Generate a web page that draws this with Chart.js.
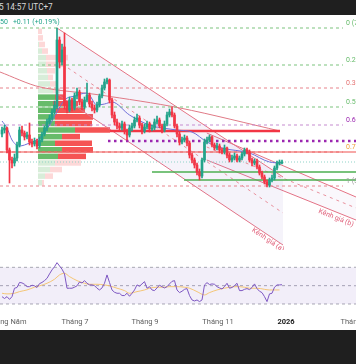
<!DOCTYPE html>
<html><head><meta charset="utf-8">
<script src="https://cdn.jsdelivr.net/npm/chart.js@4.4.1/dist/chart.umd.min.js"></script>
<style>
html,body{margin:0;padding:0;background:#fff;width:356px;height:364px;overflow:hidden;font-family:Roboto,"Noto Sans",sans-serif;}
#top{position:absolute;left:0;top:0;width:356px;height:15px;background:#1f1f1f;z-index:5;}
#bot{position:absolute;left:0;top:330px;width:356px;height:34px;background:#1f1f1f;z-index:5;}
#time{position:absolute;left:-1px;top:2px;color:#d8d8d8;font-size:8.2px;line-height:11px;white-space:nowrap;}
#quote{position:absolute;left:0;top:18px;color:#22a38a;font-size:7px;line-height:9px;white-space:nowrap;z-index:6;}
#quote span{margin-left:5px;}
canvas{position:absolute;}
#prof{left:38px;top:28px;z-index:1;}
#main{left:0;top:15px;z-index:2;}
#rsi{left:0;top:250px;z-index:2;}
</style></head>
<body>
<div id="top"><div id="time">5 14:57 UTC+7</div></div>
<div id="quote">50<span>+0.11 (+0.19%)</span></div>
<canvas id="prof" width="100" height="158"></canvas>
<canvas id="main" width="356" height="235"></canvas>
<canvas id="rsi" width="356" height="80"></canvas>
<div id="bot"></div>
<script>
// ---------- DATA ----------
const monthLabels = ['Tháng Năm','Tháng 7','Tháng 9','Tháng 11','2026','Tháng 3'];
const monthTickIdx = [2, 29.2, 57.2, 86.4, 113.6, 140.8];

const openP = [60.3,60.7,60.9,58.7,57.7,57.4,57.9,59.2,60.7,60.4,
 60.0,60.2,59.5,59.3,59.6,59.1,59.7,60.3,60.9,61.5,
 61.9,62.5,63.0,69.7,67.5,69.0,63.2,62.7,63.7,62.9,
 64.1,64.5,63.5,63.0,63.7,64.2,63.3,62.9,62.7,63.2,
 64.1,64.9,65.5,65.7,63.7,62.2,61.5,61.1,60.9,61.3,
 60.6,60.2,60.9,61.1,61.7,61.9,61.2,60.6,61.0,61.3,
 60.8,60.9,61.5,61.7,61.1,60.7,61.3,62.2,62.5,62.2,
 61.1,60.3,59.5,59.7,59.9,59.4,58.2,57.7,57.2,56.5,
 56.1,57.7,59.5,59.7,60.0,59.2,58.9,59.1,58.7,58.5,
 58.9,58.2,57.7,57.9,58.1,57.7,57.9,58.3,58.7,58.5,
 57.7,57.4,57.6,57.0,56.4,56.0,55.5,55.2,55.7,55.9,
 56.9,57.4,57.4];
const highP = [61.0,61.2,61.0,58.9,58.0,58.3,59.5,61.0,61.1,60.6,
 60.5,61.4,59.8,59.9,59.8,60.0,60.5,61.1,61.8,62.2,
 62.8,63.6,70.9,70.0,69.3,70.4,63.6,64.0,63.9,64.4,
 64.9,64.7,63.8,64.0,65.4,64.4,63.6,63.2,63.5,64.3,
 65.2,65.8,65.9,65.8,63.9,62.5,61.8,61.4,61.6,61.5,
 60.8,61.2,61.4,62.0,62.3,62.1,61.4,61.3,61.6,61.5,
 61.2,61.8,62.1,61.9,61.3,61.6,62.5,62.8,63.0,62.4,
 61.3,60.5,60.0,60.2,60.1,59.6,58.4,57.9,57.4,56.8,
 57.9,59.8,60.0,60.2,60.1,59.4,59.4,59.3,58.9,59.2,
 59.0,58.4,58.2,58.4,58.3,58.1,58.5,58.9,58.9,58.7,
 57.9,57.8,57.8,57.2,56.6,56.2,55.7,55.9,56.2,57.1,
 57.6,57.7,57.7];
const lowP = [60.0,60.4,58.4,55.4,56.9,57.1,57.6,59.0,60.1,59.7,
 59.8,59.2,59.0,59.1,58.8,58.9,59.5,60.1,60.6,61.3,
 61.7,62.3,62.8,66.9,67.2,62.8,62.4,62.5,62.6,62.7,
 63.8,63.2,62.7,62.8,63.5,63.0,62.6,62.4,62.5,63.0,
 63.9,64.7,65.3,63.4,61.9,61.2,60.8,60.6,60.7,60.3,
 59.7,60.0,60.6,60.9,61.5,60.9,60.3,60.4,60.8,60.5,
 60.6,60.7,61.3,60.9,60.4,60.5,61.1,62.0,62.0,60.9,
 60.0,59.2,59.3,59.5,59.1,57.9,57.4,56.9,56.2,55.7,
 55.9,57.5,59.3,59.5,59.0,58.7,58.7,58.4,58.3,58.3,
 57.9,57.5,57.5,57.7,57.5,57.5,57.7,58.1,58.3,57.5,
 57.1,57.2,56.8,56.2,55.8,55.3,55.0,55.0,55.5,55.7,
 56.7,57.2,57.3];
const closeP = [60.7,60.9,58.7,57.7,57.4,57.9,59.2,60.7,60.4,60.0,
 60.2,59.5,59.3,59.6,59.1,59.7,60.3,60.9,61.5,61.9,
 62.5,63.2,69.7,67.5,68.7,63.2,62.7,63.7,62.9,64.1,
 64.5,63.5,63.0,63.7,64.2,63.3,62.9,62.7,63.2,64.1,
 64.9,65.5,65.7,63.7,62.2,61.5,61.1,60.9,61.3,60.6,
 60.2,60.9,61.1,61.7,61.9,61.2,60.6,61.0,61.3,60.8,
 60.9,61.5,61.7,61.1,60.7,61.3,62.2,62.5,62.2,61.1,
 60.3,59.5,59.7,59.9,59.4,58.2,57.7,57.2,56.5,56.1,
 57.7,59.5,59.7,60.0,59.2,58.9,59.1,58.7,58.5,58.9,
 58.2,57.7,57.9,58.1,57.7,57.9,58.3,58.7,58.5,57.7,
 57.4,57.6,57.0,56.4,56.0,55.5,55.2,55.7,55.9,56.9,
 57.4,57.4,57.5];

const maIdx  = [0,2,4,7,11,15,19,22,25,29,34,38,41,44,51,59,70,76,82,88,99,107,112];
const maVals = [61.6,60.9,59.7,59.1,59.4,59.9,61.2,62.5,63.7,64.1,64.4,63.2,63.3,63.5,62.2,61.2,60.7,60.5,59.5,58.9,58.4,57.5,57.4];

const rsiVals = [38.0,36.0,38.0,35.0,38.0,47.2,48.0,53.5,53.0,51.5,
 48.9,48.9,50.5,49.8,48.0,52.2,53.5,55.5,58.0,62.8,
 67.2,70.7,75.1,71.5,68.0,62.8,47.2,47.2,47.2,48.3,
 49.8,54.0,52.9,55.5,52.6,50.8,50.8,50.0,47.2,45.3,
 47.5,52.6,61.7,53.5,45.3,42.8,41.7,41.7,39.2,39.2,
 41.7,38.4,41.7,45.3,50.8,49.4,51.9,54.4,47.2,48.9,
 45.3,44.6,47.5,50.5,48.9,47.5,48.9,51.9,54.7,55.5,
 45.3,42.4,43.9,46.0,46.8,39.2,34.4,33.3,34.4,32.6,
 34.4,50.8,53.3,51.2,51.9,51.5,48.9,47.5,46.4,48.9,
 52.6,47.2,48.0,50.0,52.6,44.6,44.6,46.0,46.8,45.7,
 48.0,51.9,46.8,43.9,42.4,38.0,32.6,41.0,41.7,48.3,
 50.8,50.8,51.0];
const rsiMaIdx  = [0,2,5,7,10,13,15,18,21,23,25,27,30,33,35,38,41,43,46,49,51,54,57,59,62,65,67,70,73,75,78,81,83,86,89,91,94,97,99,102,105,107,111];
const rsiMaVals = [41.7,41.0,41.7,43.5,45.3,48.3,49.8,52.6,57.0,61.7,63.5,59.9,55.5,52.6,51.5,51.5,50.8,49.8,47.2,44.6,41.7,43.5,45.3,47.2,48.3,48.3,48.9,48.9,48.3,47.2,43.5,39.9,42.4,45.3,47.2,48.3,48.9,48.3,47.2,47.2,46.0,45.3,45.3];
const rsiLevels = [70, 50, 30];

const profBins = [70.6,69.9,69.3,68.6,67.9,67.3,66.6,66.0,65.3,64.7,64.0,63.3,62.7,62.0,61.4,60.7,60.1,59.4,58.7,58.1,57.4,56.8,56.1,55.5];
const profBuy  = [0,0,1,4,8,8,9,10,12,15,17,15,17,17,17,37,24,17,24,20,17,12,7,4];
const profSell = [4,5,6,6,22,17,8,5,8,7,10,25,30,38,37,35,18,37,31,28,26,12,8,2];
const valueArea = [10, 19];

const fibRatios = ['0','0.236','0.382','0.5','0.618','0.786','1'];
const fibPrices = [70.9, 67.2, 64.9, 63.0, 61.2, 58.5, 55.1];

const keyLevels = [60.6, 59.6, 58.5, 57.5, 56.5, 55.7];
const keyFrom   = [43.2, 42.4, -0.8, -0.8, 60, 72.8];
const keyTo     = [111.2, 141.6, 141.6, 141.6, 141.6, 141.6];

const chanAUpper = [[22, 70.9], [112.4, 56.0]];
const chanALower = [[22, 64.3], [112.4, 49.2]];
const chanAMid   = [[26.4, 66.9], [112.4, 52.4]];
const chanBUpper = [[81.9, 60.4], [141.6, 54.0]];
const chanBLower = [[81.9, 57.7], [141.6, 51.7]];
const chanBMid   = [[81.9, 59.0], [141.6, 52.9]];
const slowLine   = [[-0.8, 66.5], [15.2, 65.0], [39.2, 64.2], [71.2, 62.9], [111.2, 60.6]];
const chanLabels = [{text:'Kênh giá (b)', at:[133.6, 51.9], line: chanBLower},
                    {text:'Kênh giá (a)', at:[106.4, 49.7], line: chanALower}];

// ---------- STYLE / BUILD ----------
Chart.defaults.font.family = 'Roboto, "Noto Sans", sans-serif';
const X_MIN = -0.8, X_MAX = 141.6;
const UP = '#22a38a', DN = '#f23645';
const idx = openP.map((_, i) => i);
const isUp = i => closeP[i] >= openP[i];
const pts = arr => arr.map(p => ({x: p[0], y: p[1]}));
const line = (data, color, width, dash, order, extra) => Object.assign({
  type:'line', data, borderColor: color, borderWidth: width, borderDash: dash || [],
  pointRadius: 0, fill: false, tension: 0, order}, extra || {});

const fibLineColors  = ['#7cc47f','#7cc47f','#e8848c','#7cc47f','#c68bd0','#e8848c','#e8848c'];
const fibLabelColors = ['#66bb6a','#66bb6a','#e57373','#66bb6a','#9c27b0','#f0a23a','#9a9a9a'];
const keyStyles = [
  {c:'#f23645', w:2.4, d:[]},
  {c:'#9c27b0', w:2.4, d:[2.5,3.5]},
  {c:'#ef5350', w:1.2, d:[]},
  {c:'#8fd3c8', w:1, d:[1,2]},
  {c:'#4caf50', w:1.4, d:[]},
  {c:'#4caf50', w:1.4, d:[]}
];

// Volume profile
new Chart(document.getElementById('prof'), {
  type: 'bar',
  data: { labels: profBins.map(String), datasets: [
    { data: profBuy, stack: 'v', borderWidth: 0, barPercentage: 0.84, categoryPercentage: 1,
      backgroundColor: profBuy.map((_, k) => (k >= valueArea[0] && k <= valueArea[1]) ? 'rgba(76,175,80,0.85)' : 'rgba(76,175,80,0.22)') },
    { data: profSell, stack: 'v', borderWidth: 0, barPercentage: 0.84, categoryPercentage: 1,
      backgroundColor: profSell.map((_, k) => (k >= valueArea[0] && k <= valueArea[1]) ? 'rgba(244,60,60,0.88)' : 'rgba(244,60,60,0.2)') }
  ]},
  options: { indexAxis: 'y', responsive: false, animation: false, layout: {padding: 0},
    plugins: {legend: {display: false}, tooltip: {enabled: false}},
    scales: { x: {display: false, min: 0, max: 100, stacked: true}, y: {display: false, stacked: true} } }
});

// Main price chart
const ds = [];
ds.push(line(pts(chanAUpper), '#e57385', 1, [], 6, {fill: {target: 1}, backgroundColor: 'rgba(149,117,205,0.09)'}));
ds.push(line(pts(chanALower), '#e57385', 1, [], 6));
ds.push(line(pts(chanBUpper), '#e57385', 1, [], 6, {fill: {target: 3}, backgroundColor: 'rgba(149,117,205,0.05)'}));
ds.push(line(pts(chanBLower), '#e57385', 1, [], 6));
ds.push(line(pts(chanAMid), '#e8909c', 1, [3,4], 5));
ds.push(line(pts(chanBMid), '#e8909c', 1, [3,4], 5));
ds.push(line(pts(slowLine), '#e07a86', 1, [], 5, {tension: 0.3}));
fibPrices.forEach((p, k) => ds.push(line(pts([[X_MIN, p], [136.4, p]]), fibLineColors[k], 1, [3,3], 4)));
keyLevels.forEach((p, k) => ds.push(line(pts([[keyFrom[k], p], [keyTo[k], p]]), keyStyles[k].c, keyStyles[k].w, keyStyles[k].d, 3)));
ds.push(line(maIdx.map((v, k) => ({x: v, y: maVals[k]})), '#6f6fd8', 1, [], 2, {tension: 0.4, cubicInterpolationMode: 'monotone'}));
ds.push({ type: 'bar', data: idx.map(i => ({x: i, y: [lowP[i], highP[i]]})),
  backgroundColor: idx.map(i => isUp(i) ? UP : DN), barThickness: 1, grouped: false, borderWidth: 0, order: 1 });
ds.push({ type: 'bar', data: idx.map(i => ({x: i, y: [openP[i], closeP[i]]})),
  backgroundColor: idx.map(i => isUp(i) ? UP : DN), barThickness: 2, minBarLength: 1, grouped: false, borderWidth: 0, order: 0 });

const annot = {
  id: 'annot',
  afterDatasetsDraw(chart) {
    const {ctx, scales: {x, y}} = chart;
    ctx.save();
    ctx.font = '7px Roboto, "Noto Sans", sans-serif';
    ctx.textBaseline = 'bottom'; ctx.textAlign = 'left';
    fibPrices.forEach((p, k) => {
      ctx.fillStyle = fibLabelColors[k];
      ctx.fillText(fibRatios[k] + ' (' + p.toFixed(2) + ')', x.getPixelForValue(137.6), y.getPixelForValue(p) - 1);
    });
    chanLabels.forEach(c => {
      const l = c.line;
      const ang = Math.atan2(y.getPixelForValue(l[1][1]) - y.getPixelForValue(l[0][1]),
                             x.getPixelForValue(l[1][0]) - x.getPixelForValue(l[0][0]));
      ctx.save();
      ctx.translate(x.getPixelForValue(c.at[0]), y.getPixelForValue(c.at[1]));
      ctx.rotate(ang);
      ctx.textAlign = 'center'; ctx.textBaseline = 'middle';
      ctx.fillStyle = '#e0607a';
      ctx.fillText(c.text, 0, 0);
      ctx.restore();
    });
    ctx.restore();
  }
};

new Chart(document.getElementById('main'), {
  type: 'bar',
  data: { datasets: ds },
  options: { responsive: false, animation: false, layout: {padding: 0},
    plugins: {legend: {display: false}, tooltip: {enabled: false}},
    scales: { x: {type: 'linear', display: false, min: X_MIN, max: X_MAX, offset: false},
              y: {display: false, min: 48.7, max: 72.2} } },
  plugins: [annot]
});

// RSI chart
const rds = [];
rds.push(line(pts([[X_MIN, rsiLevels[0]], [X_MAX, rsiLevels[0]]]), '#a9a9b3', 1, [3,3], 5, {fill: {target: 2}, backgroundColor: 'rgba(126,87,194,0.1)'}));
rds.push(line(pts([[X_MIN, rsiLevels[1]], [X_MAX, rsiLevels[1]]]), '#a9a9b3', 1, [3,3], 5));
rds.push(line(pts([[X_MIN, rsiLevels[2]], [X_MAX, rsiLevels[2]]]), '#a9a9b3', 1, [3,3], 5));
rds.push(line(rsiMaIdx.map((v, k) => ({x: v, y: rsiMaVals[k]})), 'rgba(245,190,95,0.85)', 1, [], 2, {tension: 0.4, cubicInterpolationMode: 'monotone'}));
rds.push(line(idx.map(i => ({x: i, y: rsiVals[i]})), '#7e57c2', 1, [], 1));

new Chart(document.getElementById('rsi'), {
  type: 'line',
  data: { datasets: rds },
  options: { responsive: false, animation: false, layout: {padding: 0},
    plugins: {legend: {display: false}, tooltip: {enabled: false}},
    scales: {
      x: { type: 'linear', min: X_MIN, max: X_MAX, offset: false,
           grid: {display: false, drawTicks: false}, border: {display: false},
           afterBuildTicks: a => { a.ticks = monthTickIdx.map(v => ({value: v})); },
           afterFit: a => { a.height = 24; a.paddingLeft = 0; a.paddingRight = 0; },
           ticks: { autoSkip: false, maxRotation: 0, minRotation: 0, padding: 12,
             callback: (v, i) => monthLabels[i],
             color: c => monthLabels[c.index] === '2026' ? '#1a1a1a' : '#5f5f5f',
             font: c => ({ size: 7.5, weight: monthLabels[c.index] === '2026' ? 'bold' : 'normal' }) } },
      y: { display: false, min: 27.8, max: 88.9 }
    } }
});
</script>
</body></html>
